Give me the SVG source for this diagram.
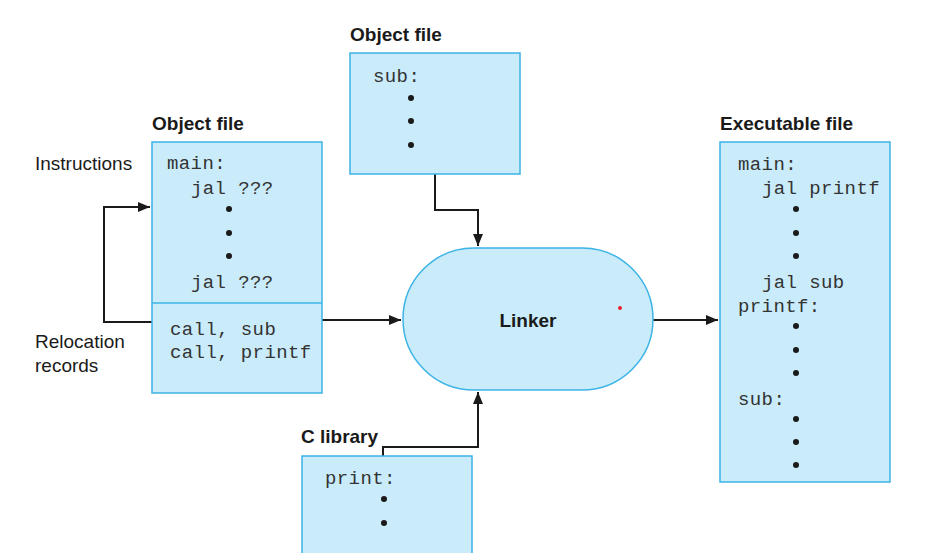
<svg xmlns="http://www.w3.org/2000/svg" width="927" height="553" viewBox="0 0 927 553">
<defs>
<style>
.box{fill:#c9ebfa;stroke:#3cb4e6;stroke-width:1.5}
.mono{font-family:"Liberation Mono","DejaVu Sans Mono",monospace;font-size:19px;fill:#333;letter-spacing:0.4px}
.lbl{font-family:"Liberation Sans",Arial,sans-serif;font-size:19px;fill:#1a1a1a}
.ttl{font-family:"Liberation Sans",Arial,sans-serif;font-size:19px;font-weight:bold;fill:#1a1a1a}
.dot{fill:#1a1a1a}
.con{fill:none;stroke:#1a1a1a;stroke-width:2}
</style>
<marker id="ah" viewBox="0 0 12 10" refX="12" refY="5" markerWidth="12" markerHeight="10" markerUnits="userSpaceOnUse" orient="auto">
<path d="M0,0 L12,5 L0,10 Z" fill="#1a1a1a"/>
</marker>
</defs>
<rect width="927" height="553" fill="#fff"/>

<g id="connectors">
<path class="con" d="M152,322 H104 V207 H150" marker-end="url(#ah)"/>
<path class="con" d="M322,320 H401" marker-end="url(#ah)"/>
<path class="con" d="M435,174 V210 H478 V246" marker-end="url(#ah)"/>
<path class="con" d="M383,456 V447 H478 V392" marker-end="url(#ah)"/>
<path class="con" d="M653,320 H718" marker-end="url(#ah)"/>
</g>

<g id="objfile-main">
<text class="ttl" x="152" y="130">Object file</text>
<rect class="box" x="152" y="142" width="170" height="251"/>
<line x1="152" y1="303" x2="322" y2="303" stroke="#3cb4e6" stroke-width="1.5"/>
<text class="mono" x="167" y="169">main:</text>
<text class="mono" x="191" y="194">jal ???</text>
<circle class="dot" cx="229" cy="209" r="3"/>
<circle class="dot" cx="229" cy="233" r="3"/>
<circle class="dot" cx="229" cy="256" r="3"/>
<text class="mono" x="191" y="288">jal ???</text>
<text class="mono" x="170" y="335">call, sub</text>
<text class="mono" x="170" y="358">call, printf</text>
</g>

<g id="labels">
<text class="lbl" x="35" y="170">Instructions</text>
<text class="lbl" x="35" y="348">Relocation</text>
<text class="lbl" x="35" y="372">records</text>
</g>

<g id="objfile-sub">
<text class="ttl" x="350" y="41">Object file</text>
<rect class="box" x="350" y="53" width="170" height="121"/>
<text class="mono" x="373" y="82">sub:</text>
<circle class="dot" cx="411" cy="98" r="3"/>
<circle class="dot" cx="411" cy="121" r="3"/>
<circle class="dot" cx="411" cy="145" r="3"/>
</g>

<g id="linker">
<rect class="box" x="403" y="248" width="250" height="142" rx="71" ry="71"/>
<text class="ttl" x="528" y="327" text-anchor="middle">Linker</text>
<circle cx="620" cy="308" r="2" fill="#e8202a"/>
</g>

<g id="clibrary">
<text class="ttl" x="301" y="443">C library</text>
<path class="box" d="M302,560 V456 H472 V560"/>
<text class="mono" x="325" y="484">print:</text>
<circle class="dot" cx="384" cy="499" r="3"/>
<circle class="dot" cx="384" cy="523" r="3"/>
</g>

<g id="executable">
<text class="ttl" x="720" y="130">Executable file</text>
<rect class="box" x="720" y="142" width="170" height="340"/>
<text class="mono" x="738" y="170">main:</text>
<text class="mono" x="762" y="194">jal printf</text>
<circle class="dot" cx="796" cy="209" r="3"/>
<circle class="dot" cx="796" cy="233" r="3"/>
<circle class="dot" cx="796" cy="256" r="3"/>
<text class="mono" x="762" y="288">jal sub</text>
<text class="mono" x="738" y="312">printf:</text>
<circle class="dot" cx="796" cy="326" r="3"/>
<circle class="dot" cx="796" cy="350" r="3"/>
<circle class="dot" cx="796" cy="373" r="3"/>
<text class="mono" x="738" y="405">sub:</text>
<circle class="dot" cx="796" cy="419" r="3"/>
<circle class="dot" cx="796" cy="442" r="3"/>
<circle class="dot" cx="796" cy="465" r="3"/>
</g>
</svg>
